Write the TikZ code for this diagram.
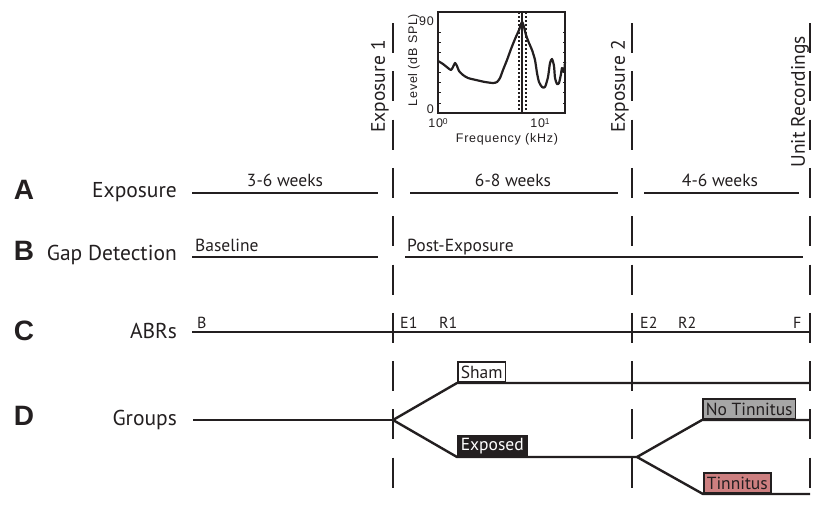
\documentclass[tikz,border=0pt]{standalone}
\usepackage{fontspec}
\setsansfont{PT Sans}
\newfontfamily\plotfont[LetterSpace=6]{Liberation Sans}
\newfontfamily\panelfont{Liberation Sans}
\usepackage{tikz}
\usepackage{xcolor}
\usetikzlibrary{positioning, calc}
\definecolor{Ink}{HTML}{231F20}
\definecolor{NoTinGray}{HTML}{A6A6A6}
\definecolor{TinRose}{HTML}{CD7F80}

\begin{document}
\begin{tikzpicture}[
  x=1pt, y=-1pt, every node/.style={inner sep=0pt, text=Ink},
  panel/.style={font=\panelfont\bfseries\fontsize{28}{28}\selectfont, anchor=base},
  rowlabel/.style={font=\sffamily\fontsize{21.5}{22}\selectfont, anchor=base east},
  period/.style={font=\sffamily\fontsize{17.5}{18}\selectfont, anchor=base},
  phase/.style={font=\sffamily\fontsize{17.5}{18}\selectfont, anchor=base west},
  abrtag/.style={font=\sffamily\fontsize{16}{16}\selectfont, anchor=base west},
  eventlabel/.style={font=\sffamily\fontsize{19.5}{20}\selectfont, rotate=90, anchor=east},
  grpbox/.style={draw=Ink, line width=1.6pt, anchor=south west, inner xsep=3pt,
    minimum height=20pt, font=\sffamily\fontsize{17.5}{18}\selectfont},
  tline/.style={line width=2.4pt, Ink},
  vdash/.style={line width=2.4pt, Ink, dash pattern=on 30pt off 18.3pt},
  axlabel/.style={font=\plotfont\fontsize{12.5}{13}\selectfont}
]
  \useasboundingbox (0,0) rectangle (814,506);

  % Event lines
  \coordinate (e1top) at (393,23);  \coordinate (e1bot) at (393,506);
  \coordinate (e2top) at (632,23);  \coordinate (e2bot) at (632,506);
  \coordinate (urtop) at (810,23);  \coordinate (urbot) at (810,506);
  \draw[vdash] (e1top) -- (e1bot);
  \draw[vdash] (e2top) -- (e2bot);
  \draw[vdash] (urtop) -- (urbot);
  \node[eventlabel] (exp1) at (380,40) {Exposure 1};
  \node[eventlabel] (exp2) at (620,40) {Exposure 2};
  \node[eventlabel] (unitrec) at (800,36) {Unit Recordings};

  % Inset: exposure spectrum
  \coordinate (frsw) at (438,113);
  \coordinate (frne) at (565,12);
  \draw[Ink, line width=2.2pt, line join=round] plot[smooth, tension=0.4] coordinates {
    (438,61) (443,64) (448,68) (451,70) (453,67) (455,63) (457,66) (459,71)
    (463,75) (468,78) (476,80) (485,82) (493,83) (497,82) (500,78) (503,70)
    (507,60) (511,49) (515,39) (519,30) (522,22) (524,27) (526,35) (529,43)
    (532,50) (535,60) (537,73) (539,82) (542,87) (545,87) (548,77) (550,63)
    (552,59) (554,66) (555,78) (557,84) (559,83) (561,74) (562,68) (564,72) (565,62)};
  \draw[Ink, line width=2pt, dash pattern=on 2pt off 2pt] (519,12) -- (519,113);
  \draw[Ink, line width=2pt, dash pattern=on 2pt off 2pt] (526,12) -- (526,113);
  \draw[Ink, line width=1.2pt] (522,12) -- (522,113);
  \foreach \db in {10,20,...,80} {
    \draw[Ink, line width=0.8pt] (438,113-1.01*\db) -- ++(2.5,0);
    \draw[Ink, line width=0.8pt] (565,113-1.01*\db) -- ++(-2.5,0);
  }
  \draw[Ink, line width=2.5pt] (frsw) rectangle (frne);
  \node[axlabel, anchor=east] (ymax) at (434,21) {90};
  \node[axlabel, anchor=east] (ymin) at (434,109) {0};
  \node[axlabel, anchor=north] (dec0) at (438,118)
    {10\raisebox{0.55ex}{\fontsize{8.5}{9}\selectfont 0}};
  \node[axlabel, anchor=north] (dec1) at (540,118)
    {10\raisebox{0.55ex}{\fontsize{8.5}{9}\selectfont 1}};
  \node[axlabel, anchor=north] (xlab) at (507,133) {Frequency (kHz)};
  \node[axlabel, rotate=90] (ylab) at (414,60) {Level (dB SPL)};

  % A: Exposure
  \node[panel] (pa) at (24,199) {A};
  \node[rowlabel] (exposure) at (177,197) {Exposure};
  \coordinate (a1s) at (192,193); \coordinate (a1e) at (378,193);
  \coordinate (a2s) at (410,193); \coordinate (a2e) at (618,193);
  \coordinate (a3s) at (644,193); \coordinate (a3e) at (799,193);
  \draw[tline] (a1s) -- (a1e);
  \draw[tline] (a2s) -- (a2e);
  \draw[tline] (a3s) -- (a3e);
  \node[period] (wk1) at (285,186) {3-6 weeks};
  \node[period] (wk2) at (513,186) {6-8 weeks};
  \node[period] (wk3) at (720,186) {4-6 weeks};

  % B: Gap Detection
  \node[panel] (pb) at (24,260) {B};
  \node[rowlabel] (gap) at (177,260) {Gap Detection};
  \coordinate (b1s) at (192,257); \coordinate (b1e) at (378,257);
  \coordinate (b2s) at (405,257); \coordinate (b2e) at (803,257);
  \draw[tline] (b1s) -- (b1e);
  \draw[tline] (b2s) -- (b2e);
  \node[phase] (base) at (195,251) {Baseline};
  \node[phase] (post) at (407,251) {Post-Exposure};

  % C: ABRs
  \node[panel] (pc) at (24,340) {C};
  \node[rowlabel] (abrs) at (177,338) {ABRs};
  \coordinate (cs) at (192,332); \coordinate (ce) at (810,332);
  \draw[tline] (cs) -- (ce);
  \node[abrtag] (tb) at (197,328) {B};
  \node[abrtag] (te1) at (400,328) {E1};
  \node[abrtag] (tr1) at (439,328) {R1};
  \node[abrtag] (te2) at (640,328) {E2};
  \node[abrtag] (tr2) at (678,328) {R2};
  \node[abrtag] (tf) at (793,328) {F};

  % D: Groups
  \node[panel] (pd) at (24,425) {D};
  \node[rowlabel] (groups) at (177,425) {Groups};
  \coordinate (ds) at (193,420);
  \coordinate (fork1) at (393,420);
  \coordinate (fork2) at (637,457);
  \coordinate (shamend) at (810,383);
  \coordinate (notinend) at (810,420);
  \coordinate (tinend) at (810,494);
  \node[grpbox, fill=white] (sham) at (457,383) {Sham};
  \node[grpbox, fill=Ink, text=white] (exposed) at (457,457) {Exposed};
  \node[grpbox, fill=NoTinGray] (notin) at (702,420) {No Tinnitus};
  \node[grpbox, fill=TinRose] (tin) at (703,494) {Tinnitus};
  \draw[tline] (ds) -- (fork1);
  \draw[tline] (fork1) -- (sham.south west) -- (shamend);
  \draw[tline] (fork1) -- (exposed.south west) -- (fork2);
  \draw[tline] (fork2) -- (notin.south west) -- (notinend);
  \draw[tline] (fork2) -- (tin.south west) -- (tinend);
\end{tikzpicture}
\end{document}
